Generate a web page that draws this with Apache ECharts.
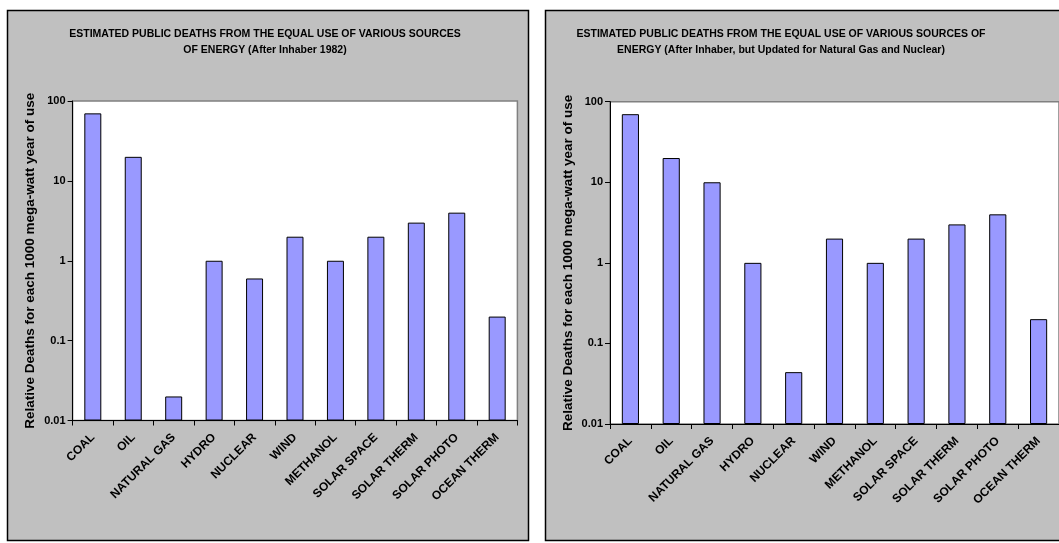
<!DOCTYPE html>
<html>
<head>
<meta charset="utf-8">
<script src="https://cdn.jsdelivr.net/npm/echarts@6/dist/echarts.min.js"></script>
<style>
html,body{margin:0;padding:0;background:#fff;}
#chart{width:1059px;height:543px;}
</style>
</head>
<body>
<div id="chart"></div>
<script>
// ---- data ----
var categories = ["COAL","OIL","NATURAL GAS","HYDRO","NUCLEAR","WIND","METHANOL","SOLAR SPACE","SOLAR THERMAL","SOLAR PHOTO","OCEAN THERMAL"];
var deaths1982 = [70, 20, 0.02, 1, 0.6, 2, 1, 2, 3, 4, 0.2];
var deathsUpdated = [70, 20, 10, 1, 0.044, 2, 1, 2, 3, 4, 0.2];
var titleLeft = "ESTIMATED PUBLIC DEATHS FROM THE EQUAL USE OF VARIOUS SOURCES\nOF ENERGY (After Inhaber 1982)";
var titleRight = "ESTIMATED PUBLIC DEATHS FROM THE EQUAL USE OF VARIOUS SOURCES OF\nENERGY (After Inhaber, but Updated for Natural Gas and Nuclear)";
var yAxisName = "Relative Deaths for each 1000 mega-watt year of use";
var yMin = 0.01, yMax = 100;

var FONT = '"Liberation Sans", Arial, sans-serif';
var chart = echarts.init(document.getElementById('chart'), null, {renderer: 'canvas'});

function xAxisCfg(gi) {
  return {
    type: 'category', gridIndex: gi, data: categories,
    axisLine: {lineStyle: {color: '#000', width: 1}},
    axisTick: {show: true, length: 5, lineStyle: {color: '#000'}},
    axisLabel: {
      rotate: 45, interval: 0, margin: 15,
      fontFamily: FONT, fontWeight: 'bold', fontSize: 12, color: '#000',
      width: 95, overflow: 'truncate', ellipsis: ''
    },
    splitLine: {show: false}
  };
}
function yAxisCfg(gi) {
  return {
    type: 'log', logBase: 10, gridIndex: gi, min: yMin, max: yMax,
    startValue: yMin,
    name: yAxisName, nameLocation: 'middle', nameGap: 35,
    nameTextStyle: {fontFamily: FONT, fontWeight: 'bold', fontSize: 13.5, color: '#000'},
    axisLine: {show: true, lineStyle: {color: '#000', width: 1}},
    axisTick: {show: true, length: 5, lineStyle: {color: '#000'}},
    minorTick: {show: false},
    axisLabel: {
      fontFamily: FONT, fontWeight: 'bold', fontSize: 11, color: '#000', margin: 7,
      formatter: function (v) { return String(+Number(v).toPrecision(3)); }
    },
    splitLine: {show: false}
  };
}
function barSeries(idx, data) {
  return {
    type: 'bar', xAxisIndex: idx, yAxisIndex: idx, data: data,
    barWidth: '42%',
    itemStyle: {color: '#9999ff', borderColor: '#000', borderWidth: 1},
    silent: true
  };
}

var option = {
  animation: false,
  backgroundColor: '#fff',
  graphic: [
    {type: 'rect', z: -10, shape: {x: 7.5, y: 10.5, width: 521, height: 530},
     style: {fill: '#c0c0c0', stroke: '#000', lineWidth: 1.5}},
    {type: 'rect', z: -10, shape: {x: 545.5, y: 10.5, width: 530, height: 530},
     style: {fill: '#c0c0c0', stroke: '#000', lineWidth: 1.5}}
  ],
  title: [
    {text: titleLeft, left: 260, top: 21, textAlign: 'center',
     textStyle: {fontFamily: FONT, fontWeight: 'bold', fontSize: 10.5, lineHeight: 16, color: '#000'}},
    {text: titleRight, left: 776, top: 21, textAlign: 'center',
     textStyle: {fontFamily: FONT, fontWeight: 'bold', fontSize: 10.5, lineHeight: 16, color: '#000'}}
  ],
  grid: [
    {left: 72.6, top: 101, width: 444.8, height: 319.5, show: true,
     backgroundColor: '#fff', borderColor: '#808080', borderWidth: 1.5, containLabel: false},
    {left: 610, top: 101.7, width: 453, height: 322.3, show: true,
     backgroundColor: '#fff', borderColor: '#808080', borderWidth: 1.5, containLabel: false}
  ],
  xAxis: [xAxisCfg(0), xAxisCfg(1)],
  yAxis: [yAxisCfg(0), yAxisCfg(1)],
  series: [barSeries(0, deaths1982), barSeries(1, deathsUpdated)]
};
chart.setOption(option);
</script>
</body>
</html>
